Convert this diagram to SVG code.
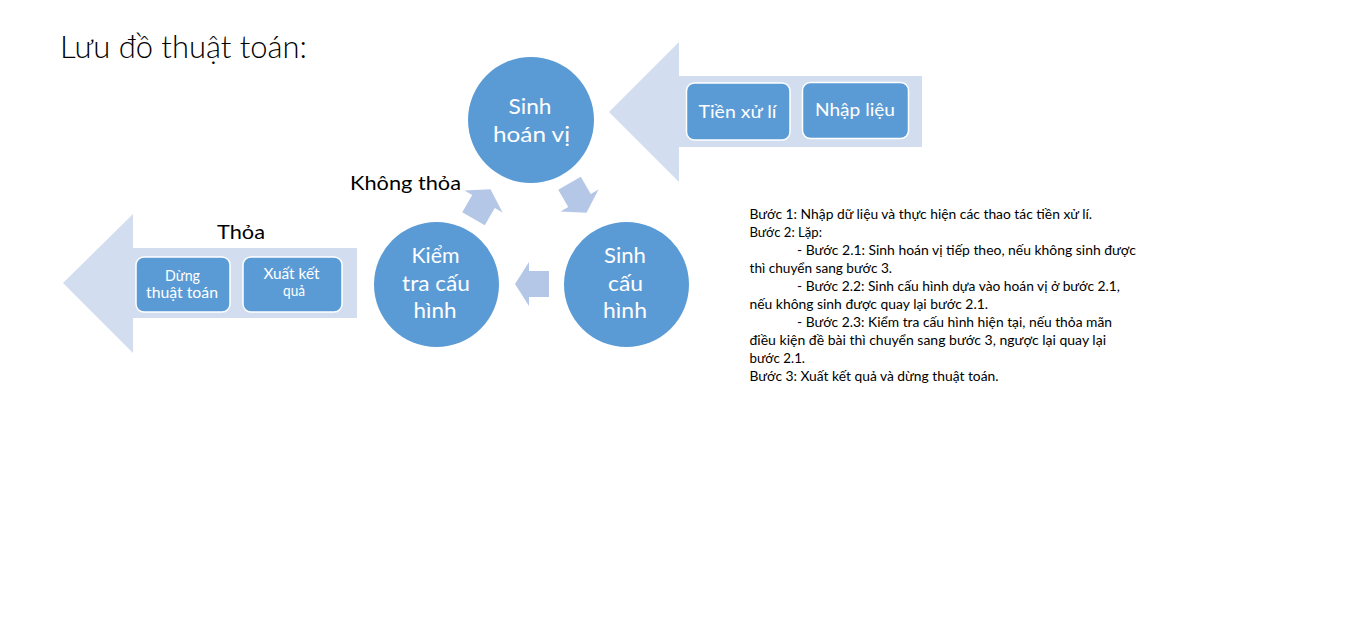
<svg xmlns="http://www.w3.org/2000/svg" width="1360" height="623" viewBox="0 0 1360 623">
<style>
.bg{fill:#ffffff}
.big{fill:#d2deef}
.small{fill:#b4c7e7}
.circ{fill:#5b9bd5}
.box{fill:#5b9bd5;stroke:#ffffff;stroke-width:1.5}
.wt{fill:#ffffff;font-family:Lato,"Open Sans","Liberation Sans",sans-serif;text-anchor:middle}
.bt{fill:#000000;font-family:Lato,"Open Sans","Liberation Sans",sans-serif}
.c{font-size:22px}
.b18{font-size:18px}
.b15{font-size:15px}
.p{font-size:13.5px}
</style>
<defs>
<polygon id="sa" points="-17,-13 3,-13 3,-22 17,0 3,22 3,13 -17,13"/>
</defs>
<rect class="bg" x="0" y="0" width="1360" height="623"/>
<text class="bt" x="60" y="58" font-size="31" font-weight="300" textLength="247" lengthAdjust="spacingAndGlyphs" fill="#1a1a1a">Lưu đồ thuật toán:</text>

<g id="arrow-input">
<polygon class="big" points="609,112 679,42 679,76 922,76 922,147 679,147 679,182"/>
</g>
<g id="arrow-output">
<polygon class="big" points="63,283 133,214 133,248 357,248 357,318 133,318 133,353"/>
</g>

<g id="connectors">
<use href="#sa" class="small" transform="translate(532,284) rotate(180)"/>
<use href="#sa" class="small" transform="translate(578,198) rotate(60)"/>
<use href="#sa" class="small" transform="translate(482,204) rotate(-60)"/>
</g>

<g id="node-sinh-hoan-vi">
<circle class="circ" cx="531" cy="120" r="63"/>
<text class="wt c" x="530" y="114" textLength="43" lengthAdjust="spacingAndGlyphs">Sinh</text>
<text class="wt c" x="531.5" y="142" textLength="77" lengthAdjust="spacingAndGlyphs">hoán vị</text>
</g>
<g id="node-sinh-cau-hinh">
<circle class="circ" cx="626.5" cy="284.5" r="62.5"/>
<text class="wt c" x="625" y="263" textLength="42" lengthAdjust="spacingAndGlyphs">Sinh</text>
<text class="wt c" x="625.5" y="291" textLength="35" lengthAdjust="spacingAndGlyphs">cấu</text>
<text class="wt c" x="625" y="318" textLength="44" lengthAdjust="spacingAndGlyphs">hình</text>
</g>
<g id="node-kiem-tra">
<circle class="circ" cx="436.5" cy="284.5" r="62.5"/>
<text class="wt c" x="435.5" y="263" textLength="48" lengthAdjust="spacingAndGlyphs">Kiểm</text>
<text class="wt c" x="436" y="291" textLength="68" lengthAdjust="spacingAndGlyphs">tra cấu</text>
<text class="wt c" x="435" y="318" textLength="43" lengthAdjust="spacingAndGlyphs">hình</text>
</g>

<g id="node-tien-xu-li">
<rect class="box" x="686.5" y="83" width="103.5" height="57" rx="8"/>
<text class="wt b18" x="737.5" y="117.5" textLength="78" lengthAdjust="spacingAndGlyphs">Tiền xử lí</text>
</g>
<g id="node-nhap-lieu">
<rect class="box" x="802.5" y="82.5" width="106" height="56" rx="8"/>
<text class="wt b18" x="855" y="116" textLength="80" lengthAdjust="spacingAndGlyphs">Nhập liệu</text>
</g>
<g id="node-dung">
<rect class="box" x="136" y="257" width="94" height="55" rx="8"/>
<text class="wt b15" x="182.5" y="280.5" textLength="35" lengthAdjust="spacingAndGlyphs">Dừng</text>
<text class="wt b15" x="182" y="297.5" textLength="72" lengthAdjust="spacingAndGlyphs">thuật toán</text>
</g>
<g id="node-xuat">
<rect class="box" x="243" y="257" width="99" height="55" rx="8"/>
<text class="wt b15" x="291.5" y="279" textLength="56" lengthAdjust="spacingAndGlyphs">Xuất kết</text>
<text class="wt b15" x="294" y="296" textLength="22" lengthAdjust="spacingAndGlyphs">quả</text>
</g>

<g id="labels">
<text class="bt" x="217" y="239" font-size="20" textLength="48" lengthAdjust="spacingAndGlyphs">Thỏa</text>
<text class="bt" x="350" y="190" font-size="20" textLength="111" lengthAdjust="spacingAndGlyphs">Không thỏa</text>
</g>

<g id="steps" class="bt p">
<text x="749.5" y="219" textLength="342.5" lengthAdjust="spacingAndGlyphs">Bước 1: Nhập dữ liệu và thực hiện các thao tác tiền xử lí.</text>
<text x="749.5" y="237" textLength="72.5" lengthAdjust="spacingAndGlyphs">Bước 2: Lặp:</text>
<text x="797" y="255" textLength="339" lengthAdjust="spacingAndGlyphs">- Bước 2.1: Sinh hoán vị tiếp theo, nếu không sinh được</text>
<text x="749.5" y="273" textLength="142.5" lengthAdjust="spacingAndGlyphs">thì chuyển sang bước 3.</text>
<text x="797" y="291" textLength="323" lengthAdjust="spacingAndGlyphs">- Bước 2.2: Sinh cấu hình dựa vào hoán vị ở bước 2.1,</text>
<text x="749.5" y="309" textLength="238.5" lengthAdjust="spacingAndGlyphs">nếu không sinh được quay lại bước 2.1.</text>
<text x="797" y="327" textLength="315" lengthAdjust="spacingAndGlyphs">- Bước 2.3: Kiểm tra cấu hình hiện tại, nếu thỏa mãn</text>
<text x="749.5" y="345" textLength="356.5" lengthAdjust="spacingAndGlyphs">điều kiện đề bài thì chuyển sang bước 3, ngược lại quay lại</text>
<text x="749.5" y="363" textLength="55.5" lengthAdjust="spacingAndGlyphs">bước 2.1.</text>
<text x="749.5" y="381" textLength="249" lengthAdjust="spacingAndGlyphs">Bước 3: Xuất kết quả và dừng thuật toán.</text>
</g>
</svg>
